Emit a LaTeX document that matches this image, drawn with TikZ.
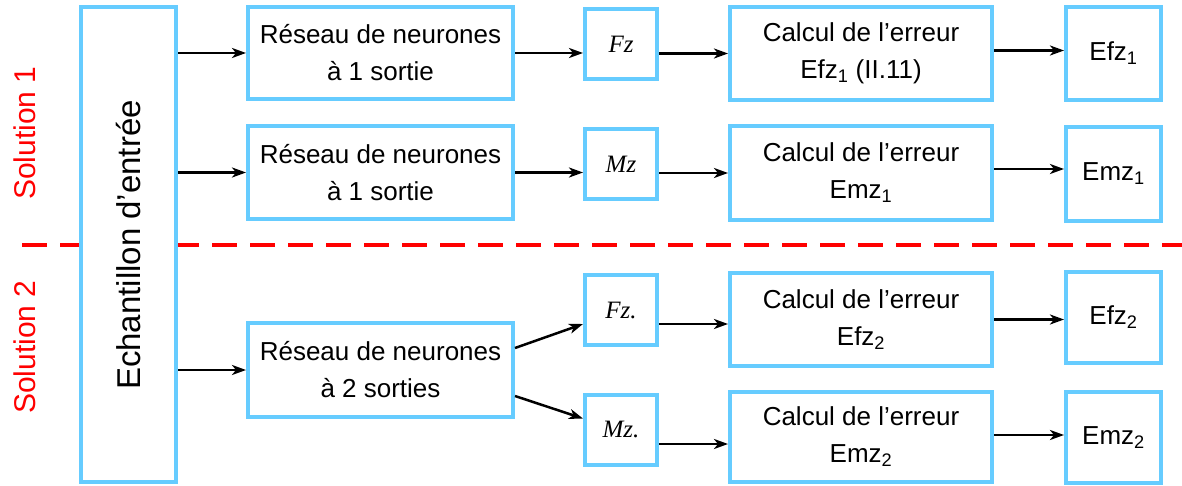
\documentclass[tikz,border=0pt]{standalone}
\usepackage{fontspec}
\setmainfont{Liberation Sans}
\newfontfamily\tms{Liberation Serif}
\usetikzlibrary{arrows.meta}
\definecolor{boxblue}{HTML}{66CCFF}
\definecolor{solred}{HTML}{FF0000}
\tikzset{
  bx/.style={draw=boxblue, line width=4pt, fill=white, inner sep=0pt, align=center,
    font=\fontsize{26}{37}\selectfont},
  arr/.style={line width=2.5pt, -{Stealth[length=14pt,width=10pt,inset=4pt]}},
  sol/.style={text=solred, rotate=90, font=\fontsize{30}{36}\selectfont},
  vz/.style={bx, minimum width=72pt, minimum height=70pt, font=\tms\itshape\fontsize{25}{28}\selectfont},
}
\begin{document}
\begin{tikzpicture}[x=1pt,y=-1pt]
\useasboundingbox (0,0) rectangle (1182,486);
% dashed separator
\draw[solred, line width=4pt, dash pattern=on 25pt off 13pt] (22,245) -- (1182,245);
% labels
\node[sol] (s1) at (24.5,133) {Solution 1};
\node[sol] (s2) at (24.5,347) {Solution 2};
% input sample
\node[bx, minimum width=95pt, minimum height=475pt] (E) at (128.5,244.5) {};
\node[rotate=90, font=\fontsize{33}{38}\selectfont] (Et) at (129,245) {Echantillon d’entrée};
% networks
\node[bx, minimum width=265pt, minimum height=92pt] (R1) at (380.5,53) {Réseau de neurones\\à 1 sortie};
\node[bx, minimum width=265pt, minimum height=93pt] (R2) at (380.5,172.5) {Réseau de neurones\\à 1 sortie};
\node[bx, minimum width=265pt, minimum height=94pt] (R3) at (380.5,370) {Réseau de neurones\\à 2 sorties};
% Fz / Mz
\node[vz] (F1) at (621,44) {Fz};
\node[vz] (M1) at (621,164) {Mz};
\node[vz] (F2) at (621,310) {Fz.};
\node[vz] (M2) at (621,429.5) {Mz.};
% error computation
\node[bx, minimum width=262pt, minimum height=93pt] (C1) at (861,53.5) {Calcul de l’erreur\\Efz\textsubscript{1} (II.11)};
\node[bx, minimum width=262pt, minimum height=94pt] (C2) at (861,173) {Calcul de l’erreur\\Emz\textsubscript{1}};
\node[bx, minimum width=262pt, minimum height=93pt] (C3) at (861,319.5) {Calcul de l’erreur\\Efz\textsubscript{2}};
\node[bx, minimum width=262pt, minimum height=90pt] (C4) at (861,437) {Calcul de l’erreur\\Emz\textsubscript{2}};
% outputs
\node[bx, minimum width=95pt, minimum height=93pt] (O1) at (1113.5,53.5) {Efz\textsubscript{1}};
\node[bx, minimum width=95pt, minimum height=94pt] (O2) at (1113.5,174) {Emz\textsubscript{1}};
\node[bx, minimum width=95pt, minimum height=91pt] (O3) at (1113.5,317.5) {Efz\textsubscript{2}};
\node[bx, minimum width=95pt, minimum height=91pt] (O4) at (1113.5,437.5) {Emz\textsubscript{2}};
% arrows from sample
\draw[arr] (E.east |- R1.west) -- (R1.west);
\draw[arr] (E.east |- R2.west) -- (R2.west);
\draw[arr] (E.east |- R3.west) -- (R3.west);
% row 1
\draw[arr] (R1.east) -- (R1.east -| F1.west);
\draw[arr] (F1.east |- C1.west) -- (C1.west);
\draw[arr] ([yshift=3pt]C1.east) -- ([yshift=3pt]C1.east -| O1.west);
% row 2
\draw[arr] (R2.east) -- (R2.east -| M1.west);
\draw[arr] (M1.east |- C2.west) -- (C2.west);
\draw[arr] ([yshift=4pt]C2.east) -- ([yshift=4pt]C2.east -| O2.west);
% row 3
\draw[arr] ([yshift=22pt]R3.east) -- ([yshift=-14pt]F2.west);
\draw[arr] ([yshift=-26pt]R3.east) -- ([yshift=11pt]M2.west);
\draw[arr] ([yshift=-14pt]F2.east) -- ([yshift=-14pt]F2.east -| C3.west);
\draw[arr] ([yshift=-14.5pt]M2.east) -- ([yshift=-14.5pt]M2.east -| C4.west);
\draw[arr] (C3.east) -- (C3.east -| O3.west);
\draw[arr] ([yshift=2pt]C4.east) -- ([yshift=2pt]C4.east -| O4.west);
\end{tikzpicture}
\end{document}
